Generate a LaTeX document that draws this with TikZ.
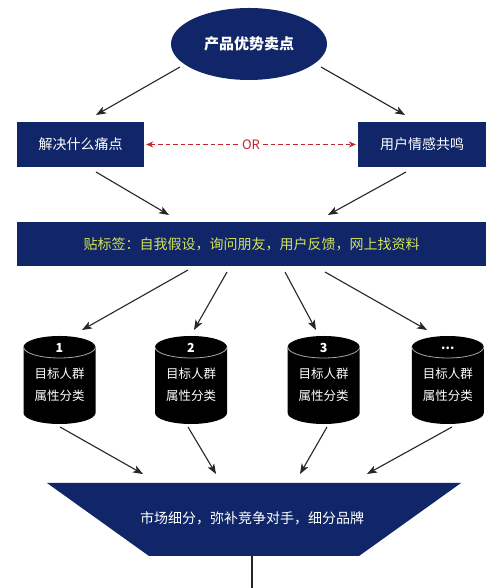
\documentclass[tikz,border=0pt]{standalone}
\usepackage{fontspec}
\setmainfont{Noto Sans CJK SC}
\usetikzlibrary{arrows.meta,shapes.geometric,calc}
\definecolor{navy}{RGB}{16,38,104}
\definecolor{tagtext}{RGB}{212,228,86}
\definecolor{orred}{RGB}{196,36,44}
\def\threedots{...}
\begin{document}
\begin{tikzpicture}[x=1pt,y=1pt,
  arr/.style={draw=black!85,line width=1.1pt,-{Stealth[length=10pt,width=7.5pt,inset=2.5pt]}},
  navybox/.style={fill=navy,text=white,inner sep=0pt,font=\fontsize{14}{16}\selectfont},
  cyltext/.style={text=white,inner sep=0pt,align=center,font=\fontsize{12.5}{22}\selectfont},
  cylbox/.style={minimum width=72pt,minimum height=88pt,inner sep=0pt}]
\useasboundingbox[fill=white] (0,0) rectangle (500,588);

% top ellipse
\node[ellipse,fill=navy,text=white,minimum width=156pt,minimum height=72pt,inner sep=0pt,
  font=\fontsize{15}{17}\selectfont\bfseries] (top) at (249,544) {产品优势卖点};

% two boxes
\node[navybox,minimum width=127pt,minimum height=45pt] (left) at (80.5,443.5) {解决什么痛点};
\node[navybox,minimum width=128pt,minimum height=45pt] (right) at (422,443.5) {用户情感共鸣};

\coordinate (t1s) at (180,521); \coordinate (t1e) at (96,473);
\coordinate (t2s) at (321,521); \coordinate (t2e) at (405,473);
\draw[arr] (t1s) -- (t1e);
\draw[arr] (t2s) -- (t2e);

% OR dashed connector
\draw[orred,line width=0.9pt,dash pattern=on 4.5pt off 3pt,
  {Stealth[length=7pt,width=6pt]}-{Stealth[length=7pt,width=6pt]}]
  ([xshift=2pt]left.east) -- node[fill=white,inner sep=2pt,text=orred,
  font=\fontsize{13}{15}\selectfont] (or) {OR} ([xshift=-2pt]right.west);

% banner
\node[navybox,minimum width=469pt,minimum height=44pt,text=tagtext] (banner) at (251.5,344)
  {贴标签：自我假设，询问朋友，用户反馈，网上找资料};

\coordinate (b1s) at (96,416); \coordinate (b1e) at (169,373);
\coordinate (b2s) at (406,416); \coordinate (b2e) at (328,373);
\draw[arr] (b1s) -- (b1e);
\draw[arr] (b2s) -- (b2e);

% cylinders
\foreach \i/\cx/\lab in {1/59.5/1,2/191/2,3/323.7/3,4/447.8/\threedots}{
  \node[cylbox] (c\i) at (\cx,208) {};
  \fill[black] (\cx-36,241) -- (\cx-36,175) arc[start angle=180,end angle=360,x radius=36pt,y radius=11pt]
     -- (\cx+36,241) arc[start angle=0,end angle=180,x radius=36pt,y radius=11pt] -- cycle;
  \draw[gray!70,line width=0.8pt] (\cx-36,241) arc[start angle=180,end angle=360,x radius=36pt,y radius=11pt];
  \node[text=white,inner sep=0pt,font=\fontsize{12.5}{13}\selectfont\bfseries] (n\i) at (\cx,240) {\lab};
  \node[cyltext] (ct\i) at (\cx,203) {目标人群\\属性分类};
}

\coordinate (d1s) at (188,318); \coordinate (d1e) at (82,258);
\coordinate (d2s) at (227,316); \coordinate (d2e) at (194,258);
\coordinate (d3s) at (285,316); \coordinate (d3e) at (316,258);
\coordinate (d4s) at (325,316); \coordinate (d4e) at (427,258);
\foreach \k in {1,2,3,4}{\draw[arr] (d\k s) -- (d\k e);}

% trapezoid
\fill[navy] (47,105) -- (461,105) -- (359,32) -- (149,32) -- cycle;
\node[text=white,inner sep=0pt,font=\fontsize{14}{16}\selectfont] (trap) at (252,70)
  {市场细分，弥补竞争对手，细分品牌};

\coordinate (e1s) at (60,161); \coordinate (e1e) at (143,114);
\coordinate (e2s) at (188,161); \coordinate (e2e) at (216,114);
\coordinate (e3s) at (327,161); \coordinate (e3e) at (300,114);
\coordinate (e4s) at (452,161); \coordinate (e4e) at (367,114);
\foreach \k in {1,2,3,4}{\draw[arr] (e\k s) -- (e\k e);}

\coordinate (trapbot) at (252,32);
\coordinate (out) at (252,0);
\draw[black!85,line width=1.1pt] (trapbot) -- (out);
\end{tikzpicture}
\end{document}
